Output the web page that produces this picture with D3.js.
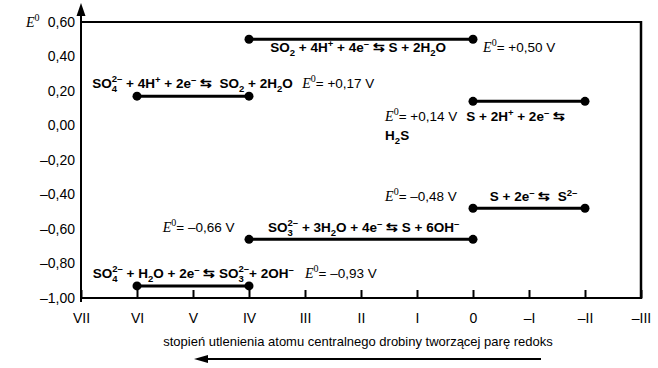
<!DOCTYPE html>
<html><head><meta charset="utf-8">
<script src="https://cdn.jsdelivr.net/npm/d3@7"></script>
<style>
body{margin:0;background:#fff}
svg{display:block}
</style></head>
<body>
<svg id="c" width="658" height="368"></svg>
<script>
// ---- data ----
const oxValues = [7, 6, 5, 4, 3, 2, 1, 0, -1, -2, -3];
const oxLabels = ["VII", "VI", "V", "IV", "III", "II", "I", "0", "–I", "–II", "–III"];
const yTicks = [0.6, 0.4, 0.2, 0.0, -0.2, -0.4, -0.6, -0.8, -1.0];
const yTickLabels = ["0,60", "0,40", "0,20", "0,00", "–0,20", "–0,40", "–0,60", "–0,80", "–1,00"];
const coupleFrom = [4, 6, 0, 0, 4, 6];
const coupleTo = [0, 4, -2, -2, 0, 4];
const coupleE = [0.50, 0.17, 0.14, -0.48, -0.66, -0.93];
const coupleELabels = ["+0,50 V", "+0,17 V", "+0,14 V", "–0,48 V", "–0,66 V", "–0,93 V"];
const coupleEquations = [
  "SO_2 + 4H^+ + 4e^– ⇆ S + 2H_2O",
  "SO_4^{2–} + 4H^+ + 2e^– ⇆  SO_2 + 2H_2O",
  "S + 2H^+ + 2e^– ⇆",
  "S + 2e^– ⇆  S^{2–}",
  "SO_3^{2–} + 3H_2O + 4e^– ⇆ S + 6OH^–",
  "SO_4^{2–} + H_2O + 2e^– ⇆ SO_3^{2–}+ 2OH^–"
];
const extraLine = "H_2S";
const xTitle = "stopień utlenienia atomu centralnego drobiny tworzącej parę redoks";

// ---- layout: [oxidation-state x anchor, pixel offset below the line] ----
const layout = [
  {eq:[3.62, 13], el:[-0.18, 13]},
  {eq:[6.8, -8], el:[3.05, -8]},
  {eq:[0.12, 20], el:[1.57, 20]},
  {eq:[-0.30, -7], el:[1.57, -7]},
  {eq:[3.66, -7], el:[5.54, -7]},
  {eq:[6.79, -8], el:[3.0, -8]}
];

const svg = d3.select("#c");
const x = d3.scaleLinear().domain([7, -3]).range([81, 641]);
const y = d3.scaleLinear().domain([-1, 0.6]).range([298, 22]);
const SANS = "'Liberation Sans', Arial, sans-serif";
const SERIF = "'Liberation Serif', 'Times New Roman', serif";

// frame
svg.append("line").attr("x1", x(7)).attr("x2", x(-3)).attr("y1", y(0.6)).attr("y2", y(0.6))
  .attr("stroke", "#000").attr("stroke-width", 2);
svg.append("line").attr("x1", x(-3)).attr("x2", x(-3)).attr("y1", y(0.6)-1).attr("y2", y(-1)+1)
  .attr("stroke", "#000").attr("stroke-width", 2.5);

// x axis
const xAxis = d3.axisBottom(x).tickValues(oxValues)
  .tickFormat((d, i) => oxLabels[i]).tickSize(-8).tickPadding(15);
const gx = svg.append("g").attr("transform", `translate(0,${y(-1)})`).call(xAxis);
gx.select(".domain").attr("stroke-width", 2).attr("d", `M${x(7)},0H${x(-3)}`);
gx.selectAll(".tick line").attr("stroke-width", 2);
gx.selectAll(".tick text").attr("font-family", SANS).attr("font-size", 14).attr("fill", "#000");

// y axis
const yAxis = d3.axisLeft(y).tickValues(yTicks).tickFormat((d, i) => yTickLabels[i]).tickSize(0).tickPadding(6);
const gy = svg.append("g").attr("transform", `translate(${x(7)},0)`).call(yAxis);
gy.select(".domain").remove();
gy.selectAll(".tick text").attr("font-family", SANS).attr("font-size", 14).attr("fill", "#000");
svg.append("line").attr("x1", x(7)).attr("x2", x(7)).attr("y1", y(-1)+4).attr("y2", 12)
  .attr("stroke", "#000").attr("stroke-width", 2);
svg.append("path").attr("d", `M${x(7)},3 L${x(7)-4.5},16 L${x(7)+4.5},16 Z`).attr("fill", "#000");

// E0 label
function eLabel(g, px, py, rest) {
  const t = g.append("text").attr("x", px).attr("y", py).attr("fill", "#000");
  t.append("tspan").attr("font-family", SERIF).attr("font-style", "italic").attr("font-size", 14).text("E");
  t.append("tspan").attr("font-family", SERIF).attr("font-size", 10).attr("dy", -6).text("0");
  if (rest) t.append("tspan").attr("font-family", SANS).attr("font-size", 13.5).attr("dy", 6).text(rest);
  return t;
}
eLabel(svg, 26, 27, null);

// equation rendering
function parse(s) {
  const out = []; let i = 0; let buf = "";
  const flush = () => { if (buf) { out.push({t:"n", s:buf}); buf = ""; } };
  const readArg = () => {
    if (s[i] === "{") { const j = s.indexOf("}", i); const a = s.slice(i+1, j); i = j+1; return a; }
    return s[i++];
  };
  while (i < s.length) {
    const c = s[i];
    if (c === "_") {
      flush(); i++; const sub = readArg();
      if (s[i] === "^") { i++; const sup = readArg(); out.push({t:"subsup", s:sub, p:sup}); }
      else out.push({t:"sub", s:sub});
    } else if (c === "^") {
      flush(); i++; out.push({t:"sup", s:readArg()});
    } else { buf += c; i++; }
  }
  flush();
  return out;
}
function equation(g, px, py, str) {
  const t = g.append("text").attr("x", px).attr("y", py).attr("font-family", SANS)
    .attr("font-weight", "bold").attr("font-size", 13.5).attr("fill", "#000")
    .attr("xml:space", "preserve").style("white-space", "pre");
  let shift = 0;
  parse(str).forEach(p => {
    if (p.t === "n") { t.append("tspan").attr("dy", -shift).text(p.s); shift = 0; }
    else if (p.t === "sub") { t.append("tspan").attr("font-size", 9.5).attr("dy", 4 - shift).text(p.s); shift = 4; }
    else if (p.t === "sup") { t.append("tspan").attr("font-size", 9.5).attr("dy", -5 - shift).text(p.s); shift = -5; }
    else {
      const a = t.append("tspan").attr("font-size", 9.5).attr("dy", 4 - shift).text(p.s);
      const w = a.node().getComputedTextLength();
      t.append("tspan").attr("font-size", 9.5).attr("dx", -w).attr("dy", -10).text(p.p);
      shift = -6;
    }
  });
  return t;
}

// couples
const gC = svg.append("g");
coupleE.forEach((e, i) => {
  gC.append("line").attr("x1", x(coupleFrom[i])).attr("x2", x(coupleTo[i]))
    .attr("y1", y(e)).attr("y2", y(e)).attr("stroke", "#000").attr("stroke-width", 3);
  [coupleFrom[i], coupleTo[i]].forEach(o => {
    gC.append("circle").attr("cx", x(o)).attr("cy", y(e)).attr("r", 4.5).attr("fill", "#000");
  });
  const L = layout[i];
  equation(gC, x(L.eq[0]), y(e) + L.eq[1], coupleEquations[i]);
  eLabel(gC, x(L.el[0]), y(e) + L.el[1], "= " + coupleELabels[i]);
});
equation(gC, x(1.57), y(coupleE[2]) + 39, extraLine);

// x title & arrow
svg.append("text").attr("x", 358).attr("y", 346).attr("text-anchor", "middle")
  .attr("font-family", SANS).attr("font-size", 13).attr("fill", "#000").text(xTitle);
svg.append("line").attr("x1", 541).attr("x2", 205).attr("y1", 359).attr("y2", 359)
  .attr("stroke", "#000").attr("stroke-width", 2);
svg.append("path").attr("d", "M194,359 L208,355 L208,363 Z").attr("fill", "#000");
</script>
</body></html>
